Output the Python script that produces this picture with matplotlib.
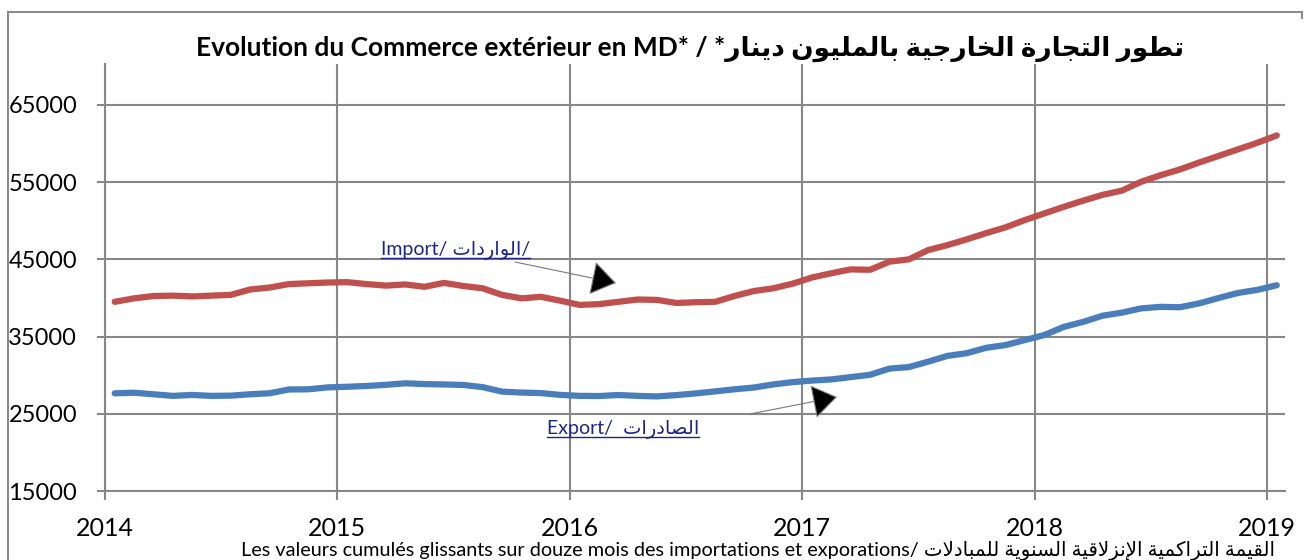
import numpy as np
import pandas as pd
import matplotlib
matplotlib.use('Agg')
import matplotlib.pyplot as plt
from matplotlib.lines import Line2D

plt.rcParams['font.family'] = ['Lato', 'DejaVu Sans']

# ---- data (MD, cumul glissant sur 12 mois) ----
months = pd.date_range('2014-01-01', periods=61, freq='MS')
imports = [39500, 39950, 40250, 40300, 40200, 40300, 40400, 41100, 41350, 41800, 41900, 42000,
           42050, 41800, 41600, 41750, 41450, 41950, 41550, 41250, 40400, 39950, 40150, 39650,
           39100, 39200, 39500, 39800, 39750, 39350, 39450, 39500, 40250, 40900, 41250, 41850,
           42650, 43200, 43700, 43650, 44700, 45000, 46200, 46850, 47600, 48400, 49150, 50100,
           50950, 51800, 52600, 53350, 53900, 55050, 55900, 56650, 57550, 58400, 59250, 60100, 61050]
exports = [27650, 27730, 27530, 27320, 27440, 27320, 27350, 27530, 27660, 28150, 28170, 28420,
           28500, 28600, 28750, 28950, 28850, 28800, 28730, 28450, 27870, 27750, 27680, 27450,
           27320, 27300, 27430, 27320, 27250, 27420, 27640, 27900, 28170, 28400, 28800, 29100,
           29300, 29450, 29750, 30050, 30850, 31050, 31750, 32500, 32850, 33550, 33900, 34550,
           35200, 36250, 36900, 37700, 38100, 38650, 38850, 38800, 39300, 40000, 40650, 41050, 41650]
years = [2014, 2015, 2016, 2017, 2018, 2019]
yticks = [15000, 25000, 35000, 45000, 55000, 65000]

title_fr = 'Evolution du Commerce extérieur en MD* / *'
title_ar = 'تطور التجارة الخارجية بالمليون دينار'
label_imp = ('Import/ ', 'الواردات', '/')
label_exp = ('Export/  ', 'الصادرات', '')
note_fr = 'Les valeurs cumulés glissants sur douze mois des importations et exporations/ '
note_ar = 'القيمة التراكمية الإنزلاقية السنوية للمبادلات'

# ---- minimal arabic shaping (matplotlib has no bidi / joining) ----
FORMS = {
    'ا': (0xFE8D, 0xFE8E, None, None), 'إ': (0xFE87, 0xFE88, None, None),
    'ب': (0xFE8F, 0xFE90, 0xFE91, 0xFE92), 'ة': (0xFE93, 0xFE94, None, None),
    'ت': (0xFE95, 0xFE96, 0xFE97, 0xFE98), 'ج': (0xFE9D, 0xFE9E, 0xFE9F, 0xFEA0),
    'خ': (0xFEA5, 0xFEA6, 0xFEA7, 0xFEA8), 'د': (0xFEA9, 0xFEAA, None, None),
    'ر': (0xFEAD, 0xFEAE, None, None), 'ز': (0xFEAF, 0xFEB0, None, None),
    'س': (0xFEB1, 0xFEB2, 0xFEB3, 0xFEB4), 'ص': (0xFEB9, 0xFEBA, 0xFEBB, 0xFEBC),
    'ط': (0xFEC1, 0xFEC2, 0xFEC3, 0xFEC4), 'ق': (0xFED5, 0xFED6, 0xFED7, 0xFED8),
    'ك': (0xFED9, 0xFEDA, 0xFEDB, 0xFEDC), 'ل': (0xFEDD, 0xFEDE, 0xFEDF, 0xFEE0),
    'م': (0xFEE1, 0xFEE2, 0xFEE3, 0xFEE4), 'ن': (0xFEE5, 0xFEE6, 0xFEE7, 0xFEE8),
    'و': (0xFEED, 0xFEEE, None, None), 'ي': (0xFEF1, 0xFEF2, 0xFEF3, 0xFEF4),
}
LAM_ALEF = {'ا': (0xFEFB, 0xFEFC), 'إ': (0xFEF9, 0xFEFA)}


def shape_ar(s):
    toks = []
    i = 0
    while i < len(s):
        if s[i] == 'ل' and i + 1 < len(s) and s[i + 1] in LAM_ALEF:
            toks.append(('LA', s[i + 1]))
            i += 2
        else:
            toks.append(s[i])
            i += 1

    def is_letter(t):
        return isinstance(t, tuple) or t in FORMS

    def joins_next(t):
        return (not isinstance(t, tuple)) and t in FORMS and FORMS[t][2] is not None

    out = []
    for k, t in enumerate(toks):
        prev = toks[k - 1] if k > 0 else None
        nxt = toks[k + 1] if k + 1 < len(toks) else None
        jp = prev is not None and joins_next(prev) and is_letter(t)
        jn = joins_next(t) and nxt is not None and is_letter(nxt)
        if isinstance(t, tuple):
            iso, fin = LAM_ALEF[t[1]]
            out.append(chr(fin if jp else iso))
        elif t in FORMS:
            f = FORMS[t]
            if jp and jn:
                out.append(chr(f[3]))
            elif jp:
                out.append(chr(f[1]))
            elif jn:
                out.append(chr(f[2]))
            else:
                out.append(chr(f[0]))
        else:
            out.append(t)
    return ''.join(out)[::-1]


W, H = 1310, 560


def px(x, y):
    return x / W, 1 - y / H


x = months.year + (months.month - 0.5) / 12.0

fig = plt.figure(figsize=(13.1, 5.6), dpi=100)
ax = fig.add_axes([105 / W, 1 - 491 / H, (1285 - 105) / W, (491 - 64) / H])

grid_c = '#878787'
ax.plot(x, imports, color='#C0504D', lw=4.5, solid_capstyle='round', solid_joinstyle='round', zorder=3)
ax.plot(x, exports, color='#4A7EBB', lw=4.5, solid_capstyle='round', solid_joinstyle='round', zorder=3)

ax.set_xlim(2014, 2019.077)
ax.set_ylim(15000, 70300)
ax.set_xticks(years)
ax.set_xticklabels([str(y) for y in years], fontsize=18, family=['Liberation Sans Narrow', 'Lato'])
ax.set_yticks(yticks)
ax.set_yticklabels([str(v) for v in yticks], fontsize=17)
ax.tick_params(axis='x', direction='out', length=6.5, width=1.5, color=grid_c, pad=12)
ax.tick_params(axis='y', direction='out', length=6, width=1.5, color=grid_c, pad=14)
ax.grid(True, color=grid_c, lw=1.5)
ax.set_axisbelow(True)
for s in ['top', 'right']:
    ax.spines[s].set_visible(False)
for s in ['left', 'bottom']:
    ax.spines[s].set_color(grid_c)
    ax.spines[s].set_linewidth(1.5)

# outer chart frame
fig.add_artist(Line2D([8 / W, 1302 / W], [1 - 12 / H] * 2, color='#8c8c8c', lw=1.5))
fig.add_artist(Line2D([8 / W] * 2, [1 - 12 / H, 0], color='#8c8c8c', lw=1.5))
fig.add_artist(Line2D([1302 / W] * 2, [1 - 12 / H, 1 - 18 / H], color='#8c8c8c', lw=1.5))

# title
fig.text(*px(690, 49), title_fr + shape_ar(title_ar), ha='center', va='center',
         fontsize=19, fontweight='bold', color='black')

# series labels with arrows
navy = '#1F2583'
t_imp = fig.text(*px(381, 255), label_imp[0] + shape_ar(label_imp[1]) + label_imp[2],
                 ha='left', va='baseline', fontsize=14, color=navy)
t_exp = fig.text(*px(547, 434), label_exp[0] + shape_ar(label_exp[1]) + label_exp[2],
                 ha='left', va='baseline', fontsize=14, color=navy)
arrow_kw = dict(arrowstyle='-|>,head_length=1.6,head_width=1.1', fc='black', ec='#7a7a7a',
                lw=0.8, shrinkA=0, shrinkB=0)
ax.annotate('', xy=px(616, 283), xytext=px(515, 262), xycoords='figure fraction',
            textcoords='figure fraction', arrowprops=arrow_kw)
ax.annotate('', xy=px(837, 397), xytext=px(750, 414), xycoords='figure fraction',
            textcoords='figure fraction', arrowprops=arrow_kw)

# footnote
fig.text(*px(758, 555), note_fr + shape_ar(note_ar), ha='center', va='baseline',
         fontsize=14.3, color='black')

# underline the series labels
fig.canvas.draw()
r = fig.canvas.get_renderer()
for t in (t_imp, t_exp):
    bb = t.get_window_extent(r)
    fig.add_artist(Line2D([bb.x0, bb.x1], [bb.y0 + 2, bb.y0 + 2], color=navy, lw=1.0,
                          transform=None))

fig.savefig('out.png', dpi=100, facecolor='white')
